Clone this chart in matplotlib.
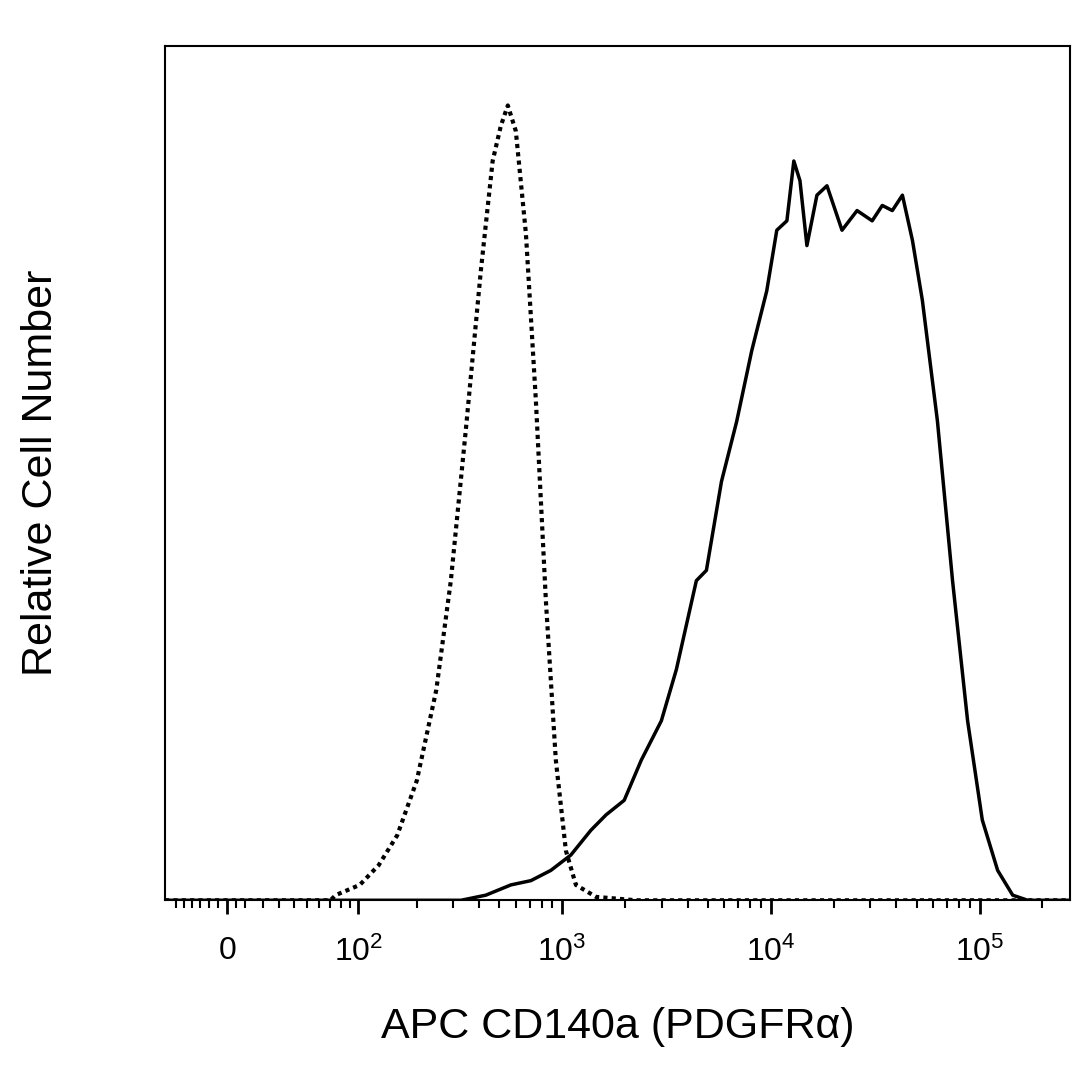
import matplotlib
matplotlib.use("Agg")
import matplotlib.pyplot as plt
import numpy as np

plt.rcParams["font.family"] = "Liberation Sans"
plt.rcParams["mathtext.fontset"] = "custom"
plt.rcParams["mathtext.rm"] = "Liberation Sans"
plt.rcParams["mathtext.it"] = "Liberation Sans"

iso_x = [-37, 70, 75, 102, 128, 159, 199, 248, 292, 345, 408, 465, 509, 550,
         601, 672, 750, 838, 935, 1045, 1167, 1456, 2270, 270000]
iso_y = [0, 0, 0.006, 0.018, 0.041, 0.076, 0.14, 0.246, 0.374, 0.55, 0.737, 0.865,
         0.906, 0.93, 0.90, 0.78, 0.585, 0.35, 0.164, 0.058, 0.018, 0.004, 0, 0]

pos_x = [-37, 327, 431, 569, 710, 885, 1104, 1377, 1628, 1988, 2400, 2994, 3533,
         4405, 4920, 5810, 6866, 8110, 9570, 10690, 11950, 12900, 13800, 14900,
         16640, 18590, 21940, 25900, 30600, 34200, 38200, 42700, 47700, 53200,
         62800, 74200, 87600, 103000, 122000, 144000, 170000, 270000]
pos_y = [0, 0, 0.006, 0.018, 0.023, 0.035, 0.053, 0.082, 0.1, 0.117, 0.164, 0.21,
         0.27, 0.374, 0.386, 0.49, 0.56, 0.643, 0.713, 0.784, 0.795, 0.865, 0.842,
         0.766, 0.825, 0.836, 0.784, 0.807, 0.795, 0.813, 0.807, 0.825, 0.772,
         0.702, 0.561, 0.374, 0.21, 0.094, 0.035, 0.006, 0, 0]

tick_vals = [0, 100, 1000, 10000, 100000]
tick_labels = ["0", "$10^{2}$", "$10^{3}$", "$10^{4}$", "$10^{5}$"]

fig = plt.figure(figsize=(10.86, 10.86), dpi=100)
ax = fig.add_axes([0.152, 0.171, 0.833, 0.787])
ax.set_xscale("asinh", linear_width=50)
ax.plot(iso_x, iso_y, color="black", lw=3, linestyle=(0, (1, 1)))
ax.plot(pos_x, pos_y, color="black", lw=2.5)
ax.set_xlim(-37, 270000)
ax.set_ylim(0, 1)

ax.set_xticks(tick_vals)
ax.set_xticklabels(tick_labels, fontsize=23)
minors = [-30, -25, -20, -15, -10, -5, 5, 10, 20, 30, 40, 50, 60, 70, 80, 90]
for k in [2, 3, 4]:
    minors += [m * 10**k for m in range(2, 10)]
minors += [200000]
ax.set_xticks(minors, minor=True)
ax.tick_params(axis="x", which="major", length=10, width=2, direction="out", pad=16)
ax.tick_params(axis="x", which="minor", length=6, width=1.5, direction="out")
ax.set_yticks([])
for s in ax.spines.values():
    s.set_linewidth(1.5)
ax.set_xlabel("APC CD140a (PDGFRα)", fontsize=31, labelpad=28)
ax.set_ylabel("Relative Cell Number", fontsize=31, labelpad=75)
fig.savefig("out.png", dpi=100)
